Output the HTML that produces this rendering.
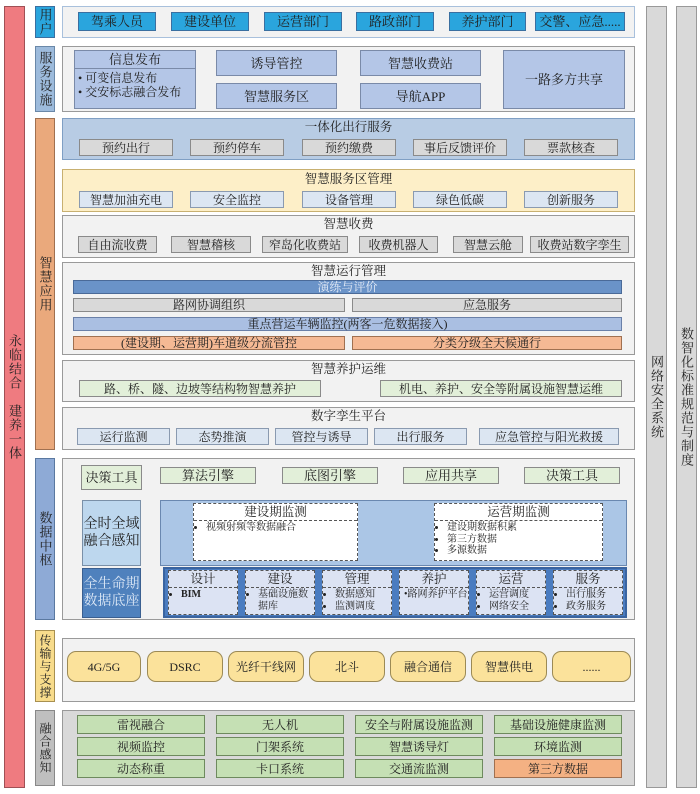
<!DOCTYPE html>
<html><head><meta charset="utf-8"><style>
body{margin:0;width:700px;height:794px;background:#fff;position:relative;overflow:hidden;font-family:"Liberation Serif","Noto Serif CJK SC",serif;color:#222}
.b{position:absolute;box-sizing:border-box;border:1px solid #8a8a8a;display:flex;align-items:center;justify-content:center;font-size:12px;white-space:nowrap;line-height:1}
.v{writing-mode:vertical-rl;text-orientation:upright;letter-spacing:1px;font-size:13px;align-items:center}
.p{position:absolute;box-sizing:border-box;border:1px solid #9a9a9a;background:#f2f2f2}
.t{position:absolute;font-size:12.5px;text-align:center;white-space:nowrap;line-height:1}
.u{background:#2aa5dd;border-color:#3a6fa0;font-size:13px}
.g{background:#d9d9d9}.lb{background:#dce6f2;border-color:#8a9ab0}.gr{background:#e2efd9}
.sv{background:#b4c6e7;border-color:#7a8aa8;font-size:13px}
.d{position:absolute;box-sizing:border-box;border:1px dashed #555;font-size:10px;line-height:1.15}
.d .h{border-bottom:1px dashed #555;text-align:center;font-size:12.5px;padding:1px 0}
.d ul{margin:1px 0 0 0;padding-left:12px}
.s{background:#c5e0b4;border-color:#6e8a5e}
.pill{background:#fbe29b;border:1px solid #9c8a55;border-radius:9px;font-size:12px}
.lab{font-size:14px;line-height:17px;text-align:center}
</style></head><body>
<div class="b v" style="left:4px;top:6px;width:21px;height:782px;background:#ef7b80;border-color:#a05055">永临结合　建养一体</div>
<div class="b v" style="left:35px;top:6px;width:20px;height:32px;background:#2aa5dd;border-color:#3a6fa0">用户</div>
<div class="b v" style="left:35px;top:46px;width:20px;height:66px;background:#9dbbdc;border-color:#6a88a8">服务设施</div>
<div class="b v" style="left:35px;top:118px;width:20px;height:332px;background:#eaa97c;border-color:#a07050">智慧应用</div>
<div class="b v" style="left:35px;top:458px;width:20px;height:162px;background:#8eaad6;border-color:#5a78a0">数据中枢</div>
<div class="b v" style="left:35px;top:630px;width:20px;height:72px;background:#f8dc8c;border-color:#a89050;font-size:12px">传输与支撑</div>
<div class="b v" style="left:35px;top:710px;width:20px;height:76px;background:#bfbfbf;border-color:#888;font-size:12px">融合感知</div>
<div class="b v" style="left:646px;top:6px;width:21px;height:782px;background:#d9d9d9;border-color:#999">网络安全系统</div>
<div class="b v" style="left:676px;top:6px;width:21px;height:782px;background:#d9d9d9;border-color:#999">数智化标准规范与制度</div>

<div class="p" style="left:62px;top:6px;width:573px;height:32px;background:#f2f2f2;border-color:#a8c0dc"></div>
<div class="b u" style="left:78px;top:12px;width:78px;height:19px">驾乘人员</div>
<div class="b u" style="left:171px;top:12px;width:78px;height:19px">建设单位</div>
<div class="b u" style="left:264px;top:12px;width:78px;height:19px">运营部门</div>
<div class="b u" style="left:356px;top:12px;width:78px;height:19px">路政部门</div>
<div class="b u" style="left:449px;top:12px;width:77px;height:19px">养护部门</div>
<div class="b u" style="left:535px;top:12px;width:90px;height:19px">交警、应急.....</div>

<div class="p" style="left:62px;top:46px;width:573px;height:66px"></div>
<div class="b sv" style="left:74px;top:50px;width:122px;height:59px;display:block">
 <div style="border-bottom:1px solid #7a8aa8;height:17px;text-align:center;line-height:17px">信息发布</div>
 <div style="font-size:12px;line-height:14px;padding:2px 0 0 3px">• 可变信息发布<br>• 交安标志融合发布</div></div>
<div class="b sv" style="left:216px;top:50px;width:121px;height:26px">诱导管控</div>
<div class="b sv" style="left:216px;top:83px;width:121px;height:26px">智慧服务区</div>
<div class="b sv" style="left:360px;top:50px;width:121px;height:26px">智慧收费站</div>
<div class="b sv" style="left:360px;top:83px;width:121px;height:26px">导航APP</div>
<div class="b sv" style="left:503px;top:50px;width:122px;height:59px">一路多方共享</div>

<div class="p" style="left:62px;top:118px;width:573px;height:42px;background:#b8cce4;border-color:#7f9fc4"></div>
<div class="t" style="left:62px;width:573px;top:121px">一体化出行服务</div>
<div class="b g" style="left:79px;top:139px;width:94px;height:17px">预约出行</div>
<div class="b g" style="left:190px;top:139px;width:94px;height:17px">预约停车</div>
<div class="b g" style="left:302px;top:139px;width:94px;height:17px">预约缴费</div>
<div class="b g" style="left:413px;top:139px;width:94px;height:17px">事后反馈评价</div>
<div class="b g" style="left:524px;top:139px;width:94px;height:17px">票款核查</div>

<div class="p" style="left:62px;top:169px;width:573px;height:43px;background:#fdefc8;border-color:#c8b070"></div>
<div class="t" style="left:62px;width:573px;top:173px">智慧服务区管理</div>
<div class="b lb" style="left:79px;top:191px;width:94px;height:17px">智慧加油充电</div>
<div class="b lb" style="left:190px;top:191px;width:94px;height:17px">安全监控</div>
<div class="b lb" style="left:302px;top:191px;width:94px;height:17px">设备管理</div>
<div class="b lb" style="left:413px;top:191px;width:94px;height:17px">绿色低碳</div>
<div class="b lb" style="left:524px;top:191px;width:94px;height:17px">创新服务</div>

<div class="p" style="left:62px;top:215px;width:573px;height:43px"></div>
<div class="t" style="left:62px;width:573px;top:218px">智慧收费</div>
<div class="b g" style="left:78px;top:236px;width:79px;height:17px">自由流收费</div>
<div class="b g" style="left:171px;top:236px;width:80px;height:17px">智慧稽核</div>
<div class="b g" style="left:262px;top:236px;width:86px;height:17px">窄岛化收费站</div>
<div class="b g" style="left:359px;top:236px;width:79px;height:17px">收费机器人</div>
<div class="b g" style="left:453px;top:236px;width:70px;height:17px">智慧云舱</div>
<div class="b g" style="left:530px;top:236px;width:99px;height:17px">收费站数字孪生</div>

<div class="p" style="left:62px;top:262px;width:573px;height:93px"></div>
<div class="t" style="left:62px;width:573px;top:265px">智慧运行管理</div>
<div class="b" style="left:73px;top:280px;width:549px;height:14px;background:#6a93c8;border-color:#4a6a98;color:#e8eef8">演练与评价</div>
<div class="b g" style="left:73px;top:298px;width:272px;height:14px">路网协调组织</div>
<div class="b g" style="left:352px;top:298px;width:270px;height:14px">应急服务</div>
<div class="b" style="left:73px;top:317px;width:549px;height:14px;background:#aabfe2;border-color:#6a80a8">重点营运车辆监控(两客一危数据接入)</div>
<div class="b" style="left:73px;top:336px;width:272px;height:14px;background:#f5b994;border-color:#a07050">(建设期、运营期)车道级分流管控</div>
<div class="b" style="left:352px;top:336px;width:270px;height:14px;background:#f5b994;border-color:#a07050">分类分级全天候通行</div>

<div class="p" style="left:62px;top:360px;width:573px;height:42px"></div>
<div class="t" style="left:62px;width:573px;top:363px">智慧养护运维</div>
<div class="b gr" style="left:79px;top:380px;width:242px;height:17px">路、桥、隧、边坡等结构物智慧养护</div>
<div class="b gr" style="left:380px;top:380px;width:242px;height:17px">机电、养护、安全等附属设施智慧运维</div>

<div class="p" style="left:62px;top:407px;width:573px;height:43px"></div>
<div class="t" style="left:62px;width:573px;top:410px">数字孪生平台</div>
<div class="b lb" style="left:77px;top:428px;width:93px;height:17px">运行监测</div>
<div class="b lb" style="left:176px;top:428px;width:93px;height:17px">态势推演</div>
<div class="b lb" style="left:275px;top:428px;width:93px;height:17px">管控与诱导</div>
<div class="b lb" style="left:374px;top:428px;width:93px;height:17px">出行服务</div>
<div class="b lb" style="left:479px;top:428px;width:140px;height:17px">应急管控与阳光救援</div>

<div class="p" style="left:62px;top:458px;width:573px;height:162px"></div>
<div class="b gr" style="left:81px;top:465px;width:61px;height:25px;font-size:13px">决策工具</div>
<div class="b gr" style="left:160px;top:467px;width:96px;height:17px;font-size:13px">算法引擎</div>
<div class="b gr" style="left:282px;top:467px;width:96px;height:17px;font-size:13px">底图引擎</div>
<div class="b gr" style="left:403px;top:467px;width:96px;height:17px;font-size:13px">应用共享</div>
<div class="b gr" style="left:524px;top:467px;width:96px;height:17px;font-size:13px">决策工具</div>
<div class="b lab" style="left:82px;top:500px;width:59px;height:66px;background:#bdd7ee;border-color:#7a90a8;white-space:normal">全时全域<br>融合感知</div>
<div class="p" style="left:160px;top:500px;width:467px;height:66px;background:#abc6e6;border-color:#6a88b0"></div>
<div class="d" style="left:193px;top:503px;width:165px;height:58px;background:#fff"><div class="h">建设期监测</div><ul><li>视频射频等数据融合</li></ul></div>
<div class="d" style="left:434px;top:503px;width:169px;height:58px;background:#fff"><div class="h">运营期监测</div><ul><li>建设期数据积累</li><li>第三方数据</li><li>多源数据</li></ul></div>
<div class="b lab" style="left:82px;top:568px;width:59px;height:50px;background:#4f81bd;border-color:#3a5f90;color:#dde8f6;white-space:normal">全生命期<br>数据底座</div>
<div class="p" style="left:163px;top:567px;width:464px;height:51px;background:#4a7cc0;border:2px solid #3a64a0"></div>
<div class="d" style="left:168px;top:570px;width:70px;height:45px;background:#dce3f3"><div class="h">设计</div><ul><li><b>BIM</b></li></ul></div>
<div class="d" style="left:245px;top:570px;width:70px;height:45px;background:#dce3f3"><div class="h">建设</div><ul><li>基础设施数据库</li></ul></div>
<div class="d" style="left:322px;top:570px;width:70px;height:45px;background:#dce3f3"><div class="h">管理</div><ul><li>数据感知</li><li>监测调度</li></ul></div>
<div class="d" style="left:399px;top:570px;width:70px;height:45px;background:#dce3f3"><div class="h">养护</div><ul style="padding-left:4px;list-style:none"><li>•路网养护平台</li></ul></div>
<div class="d" style="left:476px;top:570px;width:70px;height:45px;background:#dce3f3"><div class="h">运营</div><ul><li>运营调度</li><li>网络安全</li></ul></div>
<div class="d" style="left:553px;top:570px;width:70px;height:45px;background:#dce3f3"><div class="h">服务</div><ul><li>出行服务</li><li>政务服务</li></ul></div>

<div class="p" style="left:62px;top:638px;width:573px;height:64px"></div>
<div class="b pill" style="left:67px;top:651px;width:74px;height:31px">4G/5G</div>
<div class="b pill" style="left:147px;top:651px;width:76px;height:31px">DSRC</div>
<div class="b pill" style="left:228px;top:651px;width:76px;height:31px">光纤干线网</div>
<div class="b pill" style="left:309px;top:651px;width:76px;height:31px">北斗</div>
<div class="b pill" style="left:390px;top:651px;width:76px;height:31px">融合通信</div>
<div class="b pill" style="left:471px;top:651px;width:76px;height:31px">智慧供电</div>
<div class="b pill" style="left:552px;top:651px;width:79px;height:31px">......</div>

<div class="p" style="left:62px;top:710px;width:573px;height:76px;background:#d9d9d9;border-color:#999"></div>
<div class="b s" style="left:77px;top:715px;width:128px;height:19px">雷视融合</div>
<div class="b s" style="left:216px;top:715px;width:128px;height:19px">无人机</div>
<div class="b s" style="left:355px;top:715px;width:128px;height:19px">安全与附属设施监测</div>
<div class="b s" style="left:494px;top:715px;width:128px;height:19px">基础设施健康监测</div>
<div class="b s" style="left:77px;top:737px;width:128px;height:19px">视频监控</div>
<div class="b s" style="left:216px;top:737px;width:128px;height:19px">门架系统</div>
<div class="b s" style="left:355px;top:737px;width:128px;height:19px">智慧诱导灯</div>
<div class="b s" style="left:494px;top:737px;width:128px;height:19px">环境监测</div>
<div class="b s" style="left:77px;top:759px;width:128px;height:19px">动态称重</div>
<div class="b s" style="left:216px;top:759px;width:128px;height:19px">卡口系统</div>
<div class="b s" style="left:355px;top:759px;width:128px;height:19px">交通流监测</div>
<div class="b s" style="left:494px;top:759px;width:128px;height:19px;background:#f4b183;border-color:#a07050">第三方数据</div>
</body></html>
